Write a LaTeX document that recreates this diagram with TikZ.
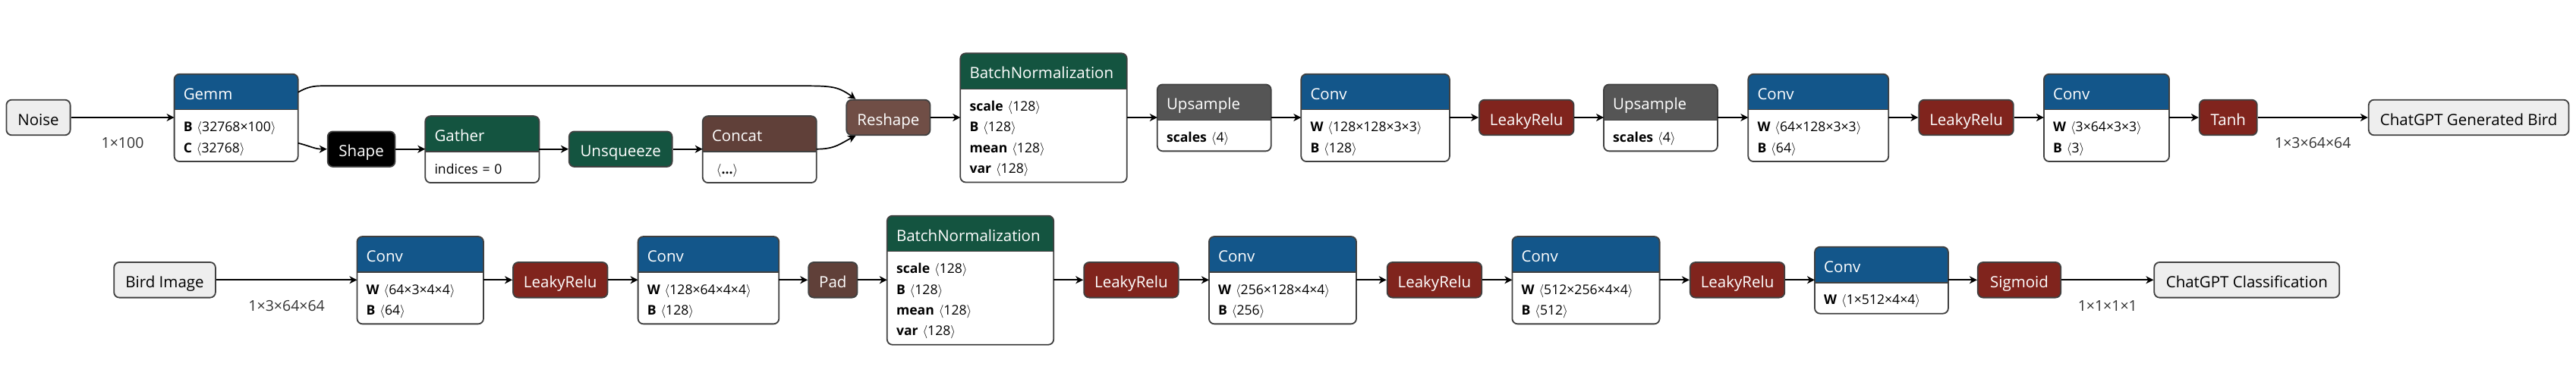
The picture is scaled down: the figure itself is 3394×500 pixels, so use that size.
\documentclass[tikz,border=0pt]{standalone}
\usepackage{fontspec}
\setmainfont{Open Sans}
\usetikzlibrary{arrows.meta,backgrounds}

\definecolor{layer}{RGB}{19,86,138}
\definecolor{activation}{RGB}{128,36,29}
\definecolor{norm}{RGB}{20,84,64}
\definecolor{shapeop}{RGB}{112,78,70}
\definecolor{tensorop}{RGB}{96,64,57}
\definecolor{dataop}{RGB}{85,85,85}
\definecolor{iofill}{RGB}{238,238,238}
\definecolor{border}{RGB}{64,64,64}

\begin{document}
\begin{tikzpicture}[x=1pt, y=-1pt,
  nbase/.style={draw=border, line width=1.8pt, rounded corners=7pt, inner sep=0pt,
    minimum height=46.6pt, text height=24pt, text depth=4pt, font=\hfont},
  nio/.style={nbase, fill=iofill, text=black},
  nop/.style={nbase, text=white},
  nhead/.style={anchor=north west, inner xsep=12pt, inner ysep=0pt, minimum height=46.6pt,
    text height=24pt, text depth=4pt, align=left, font=\hfont, text=white},
  nattr/.style={anchor=north west, inner xsep=12pt, inner ysep=0pt, align=left, font=\afont},
  nframe/.style={draw=border, line width=1.8pt, rounded corners=7pt},
  edge/.style={line width=1.7pt, -{Stealth[length=10pt, width=10pt, inset=3pt]}},
  elabel/.style={font=\lfont, text=black!80, yshift=-34pt}
 ]
  \def\hfont{\fontsize{20.5}{24}\selectfont}
  \def\afont{\fontsize{17.6}{27.4}\selectfont}
  \def\lfont{\fontsize{19.5}{22}\selectfont}
  \def\arow#1#2{\rule[-4pt]{0pt}{25.5pt}\textbf{#1}\ $\langle$#2$\rangle$}
  \useasboundingbox (0,0) rectangle (3394,500);
  \coordinate (row1) at (0,155);
  \coordinate (row2) at (0,369.3);

  % generator
  \node[nio, minimum width=84.2pt] (noise) at (50.5,155) {Noise};
  \node[nhead, text width=138.7pt] (gemm) at (229.6,97.75) {Gemm};
  \node[nattr, text width=138.7pt, minimum height=67.9pt] (gemm-a) at (gemm.south west)
    {\arow{B}{32768×100}\\\arow{C}{32768}};
  \node[nop, fill=black, minimum width=88.8pt] (shape) at (476.1,196.7) {Shape};
  \node[nhead, text width=125.7pt] (gather) at (560.3,153.15) {Gather};
  \node[nattr, text width=125.7pt, minimum height=40.5pt] (gather-a) at (gather.south west)
    {\rule[-4pt]{0pt}{25.5pt}indices = 0};
  \node[nop, fill=norm, minimum width=135.8pt] (unsq) at (817.7,196.7) {Unsqueeze};
  \node[nhead, text width=125.6pt] (concat) at (925.8,153.15) {Concat};
  \node[nattr, text width=125.6pt, minimum height=40.5pt] (concat-a) at (concat.south west)
    {\rule[-4pt]{0pt}{25.5pt}\ $\langle$\textbf{...}$\rangle$};
  \node[nop, fill=shapeop, minimum width=110.2pt] (reshape) at (1170.4,155) {Reshape};
  \foreach \n/\x/\y in {bn1/1265.3/70.35, bn2/1168.8/284.65} {
    \node[nhead, text width=195pt] (\n) at (\x,\y) {BatchNormalization};
    \node[nattr, text width=195pt, minimum height=122.7pt] (\n-a) at (\n.south west)
      {\arow{scale}{128}\\\arow{B}{128}\\\arow{mean}{128}\\\arow{var}{128}};
  }
  \foreach \n/\x in {up1/1524.8, up2/2113} {
    \node[nhead, text width=125.5pt] (\n) at (\x,111.45) {Upsample};
    \node[nattr, text width=125.5pt, minimum height=40.5pt] (\n-a) at (\n.south west)
      {\arow{scales}{4}};
  }
  \foreach \n/\x/\y/\tw/\wv/\bv in {conv1/1714.3/97.75/171.2pt/128×128×3×3/128,
      conv2/2303.3/97.75/160.5pt/64×128×3×3/64, conv3/2692.9/97.75/140.7pt/3×64×3×3/3,
      c1/470.5/312.05/142.1pt/64×3×4×4/64, c2/840.6/312.05/161.3pt/128×64×4×4/128,
      c3/1592.9/312.05/169.7pt/256×128×4×4/256, c4/1992.4/312.05/169.8pt/512×256×4×4/512} {
    \node[nhead, text width=\tw] (\n) at (\x,\y) {Conv};
    \node[nattr, text width=\tw, minimum height=67.9pt] (\n-a) at (\n.south west)
      {\arow{W}{\wv}\\\arow{B}{\bv}};
  }
  \foreach \n/\x/\y in {lrelu1/2011.25/155, lrelu2/2590.55/155, lr1/738.25/369.3,
      lr2/1490.4/369.3, lr3/1889.95/369.3, lr4/2289.05/369.3}
    \node[nop, fill=activation, minimum width=124.5pt] (\n) at (\x,\y) {LeakyRelu};
  \node[nop, fill=activation, minimum width=76pt] (tanh) at (2935.8,155) {Tanh};
  \node[nio, minimum width=263.7pt] (bird) at (3252.65,155) {ChatGPT Generated Bird};

  % discriminator
  \node[nio, minimum width=133.7pt] (img) at (217.05,369.3) {Bird Image};
  \node[nop, fill=tensorop, minimum width=64.3pt] (pad) at (1097.35,369.3) {Pad};
  \node[nhead, text width=151.5pt] (c5) at (2391,325.75) {Conv};
  \node[nattr, text width=151.5pt, minimum height=40.5pt] (c5-a) at (c5.south west)
    {\arow{W}{1×512×4×4}};
  \node[nop, fill=activation, minimum width=109.4pt] (sig) at (2660.5,369.3) {Sigmoid};
  \node[nio, minimum width=244pt] (cls) at (2960.3,369.3) {ChatGPT Classification};

  % header and body of the boxes
  \foreach \n/\c in {gemm/layer, gather/norm, concat/tensorop, bn1/norm, up1/dataop,
      conv1/layer, up2/dataop, conv2/layer, conv3/layer, c1/layer, c2/layer, bn2/norm,
      c3/layer, c4/layer, c5/layer} {
    \begin{pgfonlayer}{background}
     \begin{scope}
      \clip[rounded corners=7pt] (\n.north west) rectangle (\n-a.south east);
      \fill[white] (\n.north west) rectangle (\n-a.south east);
      \fill[\c] (\n.north west) rectangle (\n.south east);
     \end{scope}
    \end{pgfonlayer}
    \draw[nframe] (\n.north west) rectangle (\n-a.south east);
    \draw[border, line width=1.5pt] (\n.south west) -- (\n.south east);
  }

  % edges
  \coordinate (skip-a) at (425,113.3);
  \coordinate (skip-b) at (1045,113.3);
  \draw[edge] (noise.east) -- node[elabel] (noise-l) {1×100} (noise -| gemm.west);
  \draw[edge] ([yshift=-24pt]gemm.north east) .. controls +(12,-7) and +(-12,0) .. (skip-a)
    -- (skip-b) .. controls +(50,0) and +(-25,-18) .. ([xshift=13pt]reshape.north west);
  \draw[edge] ([yshift=-44pt]gemm.south east) .. controls +(16,4) and +(-16,0) .. (shape.west);
  \draw[edge] (shape.east) -- (shape -| gather.west);
  \draw[edge] (unsq -| gather.east) -- (unsq.west);
  \draw[edge] (unsq.east) -- (unsq -| concat.west);
  \draw[edge] (unsq -| concat.east) .. controls +(25,0) and +(-20,10) .. ([xshift=13pt]reshape.south west);
  \foreach \a/\b in {reshape/bn1, bn1/up1, up1/conv1, conv1/lrelu1, lrelu1/up2, up2/conv2,
      conv2/lrelu2, lrelu2/conv3, conv3/tanh}
    \draw[edge] (row1 -| \a.east) -- (row1 -| \b.west);
  \draw[edge] (tanh.east) -- node[elabel] (bird-l) {1×3×64×64} (tanh -| bird.west);

  \draw[edge] (img.east) -- node[elabel] (img-l) {1×3×64×64} (img -| c1.west);
  \foreach \a/\b in {c1/lr1, lr1/c2, c2/pad, pad/bn2, bn2/lr2, lr2/c3, c3/lr3, lr3/c4,
      c4/lr4, lr4/c5, c5/sig}
    \draw[edge] (row2 -| \a.east) -- (row2 -| \b.west);
  \draw[edge] (sig.east) -- node[elabel] (sig-l) {1×1×1×1} (sig -| cls.west);
\end{tikzpicture}
\end{document}
